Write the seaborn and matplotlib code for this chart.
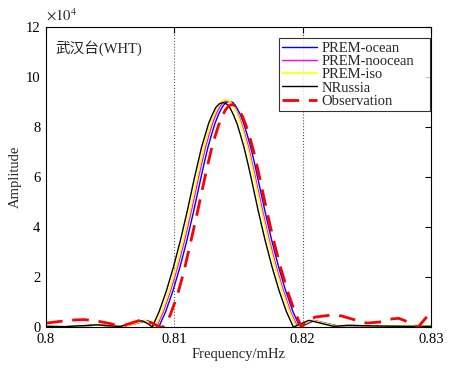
import matplotlib
matplotlib.use('Agg')
import matplotlib.pyplot as plt
import seaborn as sns
import pandas as pd

# amplitude in units of 1e4, frequency in mHz
freq_ocean = [0.8000, 0.8015, 0.8030, 0.8040, 0.8050, 0.8060, 0.8070, 0.8079, 0.8084,
              0.80879, 0.80934, 0.80989, 0.81044, 0.81099, 0.81154, 0.81209, 0.81237, 0.81264, 0.81292,
              0.81319, 0.81347, 0.81374, 0.81402, 0.81429, 0.81457, 0.81484, 0.81512, 0.81539, 0.81567,
              0.81594, 0.81622, 0.81649, 0.81704, 0.81759, 0.81814, 0.81869, 0.81924,
              0.81979, 0.8209, 0.8227, 0.8240, 0.8260, 0.8280, 0.8300]
amp_ocean = [0.02, 0.01, 0.05, 0.08, 0.05, 0.03, 0.14, 0.26, 0.12,
             0.0, 0.63, 1.44, 2.39, 3.48, 4.70, 6.00, 6.64, 7.22, 7.72,
             8.17, 8.53, 8.80, 8.98, 9.03, 8.98, 8.80, 8.53, 8.17, 7.72,
             7.22, 6.64, 6.00, 4.70, 3.48, 2.39, 1.44, 0.63,
             0.0, 0.26, 0.05, 0.06, 0.03, 0.03, 0.05]

freq_noocean = [0.8000, 0.8015, 0.8030, 0.8040, 0.8050, 0.8060, 0.8070, 0.8078, 0.8083,
                0.80861, 0.80916, 0.80971, 0.81026, 0.81081, 0.81136, 0.81191, 0.81219, 0.81246, 0.81274,
                0.81301, 0.81329, 0.81356, 0.81384, 0.81411, 0.81439, 0.81466, 0.81494, 0.81521, 0.81549,
                0.81576, 0.81604, 0.81631, 0.81686, 0.81741, 0.81796, 0.81851, 0.81906,
                0.81961, 0.8208, 0.8226, 0.8240, 0.8260, 0.8280, 0.8300]
amp_noocean = [0.02, 0.01, 0.05, 0.08, 0.05, 0.03, 0.15, 0.27, 0.12,
               0.0, 0.63, 1.45, 2.40, 3.48, 4.71, 6.02, 6.65, 7.24, 7.74,
               8.19, 8.55, 8.82, 9.00, 9.05, 9.00, 8.82, 8.55, 8.19, 7.74,
               7.24, 6.65, 6.02, 4.71, 3.48, 2.40, 1.45, 0.63,
               0.0, 0.27, 0.05, 0.06, 0.03, 0.03, 0.05]

freq_iso = [0.8000, 0.8015, 0.8030, 0.8040, 0.8050, 0.8060, 0.8070, 0.8077, 0.8082,
            0.80851, 0.80906, 0.80961, 0.81016, 0.81071, 0.81126, 0.81181, 0.81209, 0.81236, 0.81264,
            0.81291, 0.81319, 0.81346, 0.81374, 0.81401, 0.81429, 0.81456, 0.81484, 0.81511, 0.81539,
            0.81566, 0.81594, 0.81621, 0.81676, 0.81731, 0.81786, 0.81841, 0.81896,
            0.81951, 0.8207, 0.8225, 0.8240, 0.8260, 0.8280, 0.8300]
amp_iso = [0.02, 0.01, 0.05, 0.08, 0.05, 0.03, 0.15, 0.27, 0.12,
           0.0, 0.64, 1.46, 2.41, 3.50, 4.73, 6.05, 6.69, 7.28, 7.78,
           8.24, 8.60, 8.87, 9.05, 9.10, 9.05, 8.87, 8.60, 8.24, 7.78,
           7.28, 6.69, 6.05, 4.73, 3.50, 2.41, 1.46, 0.64,
           0.0, 0.27, 0.05, 0.06, 0.03, 0.04, 0.06]

freq_nrussia = [0.8000, 0.8015, 0.8030, 0.8040, 0.8050, 0.8058, 0.8068, 0.8075, 0.8080,
                0.80828, 0.80883, 0.80938, 0.80993, 0.81048, 0.81103, 0.81158, 0.81186, 0.81213, 0.81241,
                0.81268, 0.81296, 0.81323, 0.81351, 0.81378, 0.81406, 0.81433, 0.81461, 0.81488, 0.81516,
                0.81543, 0.81571, 0.81598, 0.81653, 0.81708, 0.81763, 0.81818, 0.81873,
                0.81928, 0.8205, 0.8224, 0.8235, 0.8260, 0.8280, 0.8300]
amp_nrussia = [0.03, 0.02, 0.06, 0.09, 0.05, 0.02, 0.20, 0.25, 0.12,
               0.0, 0.63, 1.44, 2.39, 3.47, 4.68, 5.99, 6.60, 7.20, 7.68,
               8.15, 8.49, 8.78, 8.93, 8.98, 8.93, 8.78, 8.49, 8.15, 7.68,
               7.20, 6.60, 5.99, 4.68, 3.47, 2.39, 1.44, 0.63,
               0.0, 0.27, 0.03, 0.07, 0.04, 0.03, 0.03]

freq_obs = [0.8000, 0.8010, 0.8020, 0.8030, 0.8040, 0.8050, 0.8058, 0.8066, 0.8075, 0.8082, 0.8088,
            0.80912, 0.80966, 0.81020, 0.81074, 0.81128, 0.81182, 0.81236, 0.81263, 0.81290, 0.81317,
            0.81344, 0.81371, 0.81398, 0.81425, 0.81452, 0.81479, 0.81506, 0.81533, 0.81560, 0.81587,
            0.81614, 0.81641, 0.81668, 0.81722, 0.81776, 0.81830, 0.81884, 0.81938,
            0.81992, 0.8205, 0.8210, 0.8222, 0.8230, 0.8240, 0.8250, 0.8260, 0.8270, 0.8275, 0.8280,
            0.8285, 0.8290, 0.8295, 0.8300]
amp_obs = [0.16, 0.22, 0.28, 0.30, 0.24, 0.14, 0.02, 0.15, 0.30, 0.18, 0.02,
           0.0, 0.45, 1.20, 2.20, 3.40, 4.63, 5.92, 6.54, 7.12, 7.61,
           8.05, 8.41, 8.68, 8.85, 8.90, 8.85, 8.68, 8.41, 8.05, 7.61,
           7.12, 6.54, 5.92, 4.63, 3.43, 2.36, 1.42, 0.62,
           0.0, 0.30, 0.40, 0.48, 0.45, 0.30, 0.16, 0.20, 0.33, 0.35, 0.25,
           0.10, 0.0, 0.30, 0.60]

series = [
    ('PREM-ocean', freq_ocean, amp_ocean, '#0000ff', 1.0),
    ('PREM-noocean', freq_noocean, amp_noocean, '#ff00ff', 1.0),
    ('PREM-iso', freq_iso, amp_iso, '#ffff00', 1.2),
    ('NRussia', freq_nrussia, amp_nrussia, 'black', 1.0),
    ('Observation', freq_obs, amp_obs, 'red', 2.0),
]

sns.set_theme(style='white')
plt.rcParams['font.family'] = ['Liberation Serif', 'Noto Sans CJK SC']
plt.rcParams['mathtext.fontset'] = 'stix'

fig = plt.figure(figsize=(4.55, 3.70), dpi=100)
ax = fig.add_axes([0.101, 0.116, 0.846, 0.811])

for name, fx, fy, color, lw in series:
    df = pd.DataFrame({'Frequency': fx, 'Amplitude': fy})
    sns.lineplot(data=df, x='Frequency', y='Amplitude', ax=ax, color=color,
                 linewidth=lw, label=name)
    if name == 'Observation':
        ax.lines[-1].set_dashes((6, 3.5))

# dotted reference lines
for xv in [0.81, 0.82]:
    ax.axvline(xv, color='#555555', linestyle=':', linewidth=0.8, zorder=0)

ax.set_xlim(0.8, 0.83)
ax.set_ylim(0, 12)
ax.set_xticks([0.8, 0.81, 0.82, 0.83])
ax.set_xticklabels(['0.8', '0.81', '0.82', '0.83'])
ax.set_yticks([0, 2, 4, 6, 8, 10, 12])
ax.tick_params(direction='in', length=4, width=0.8, top=True, right=True,
               labelsize=10.5, colors='black', pad=4)
for sp in ax.spines.values():
    sp.set_color('black')
    sp.set_linewidth(0.8)

ax.set_xlabel('Frequency/mHz', fontsize=10.5, labelpad=2)
ax.set_ylabel('Amplitude', fontsize=10.5, labelpad=3)

ax.text(0.0, 1.012, r'$\times10^4$', transform=ax.transAxes, fontsize=10.5, ha='left', va='bottom')
ax.text(0.025, 0.955, '武汉台(WHT)', transform=ax.transAxes, fontsize=10.5, ha='left', va='top')

leg = ax.legend(loc='upper right', bbox_to_anchor=(0.605, 0.5, 0.392, 0.463), mode='expand',
                fontsize=10.5, frameon=True, fancybox=False, borderpad=0.25, labelspacing=0.0,
                handlelength=2.4, handletextpad=0.3, borderaxespad=0.0)
leg.get_frame().set_edgecolor('black')
leg.get_frame().set_linewidth(0.8)

fig.savefig('out.png', dpi=100)
